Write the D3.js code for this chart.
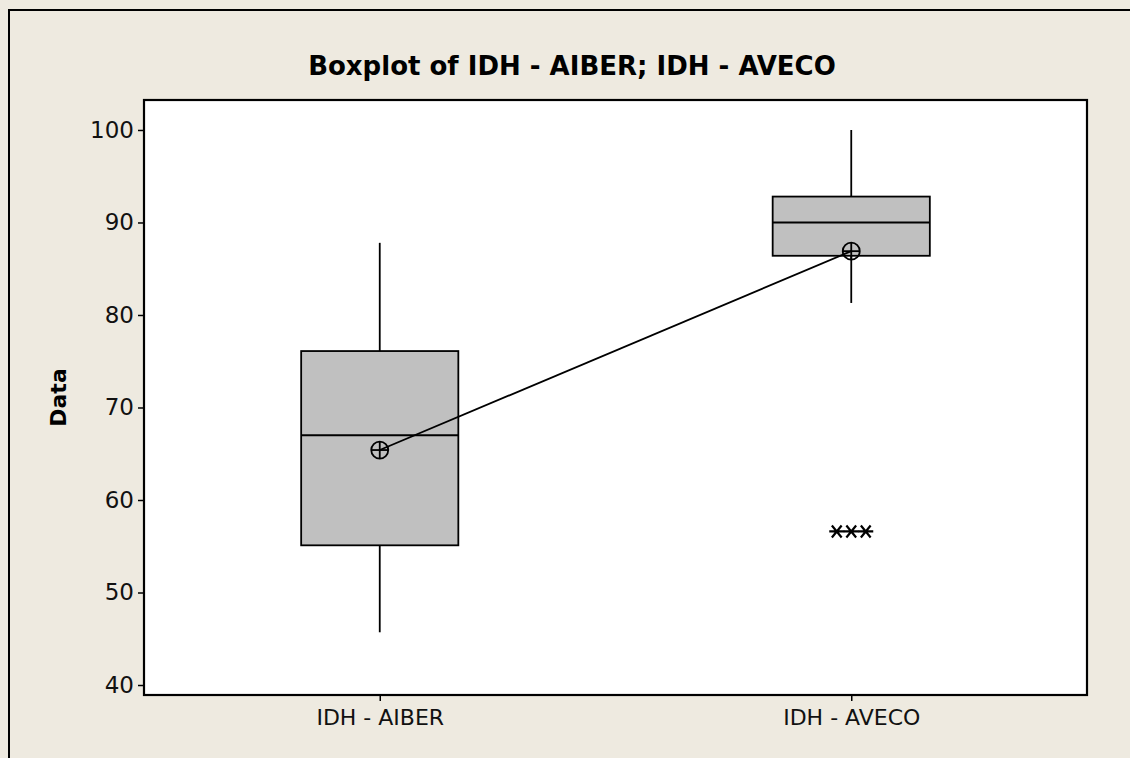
<!DOCTYPE html>
<html><head><meta charset="utf-8">
<script src="https://cdn.jsdelivr.net/npm/d3@7"></script>
<style>body{margin:0;background:#EEEAE0;} svg{display:block;}</style>
</head><body>
<svg id="chart" width="1130" height="758"></svg>
<script>
const categories = ["IDH - AIBER", "IDH - AVECO"];
const whiskerLow  = [45.7, 81.3];
const q1Values    = [55.1, 86.4];
const medians     = [67.0, 90.0];
const q3Values    = [76.1, 92.8];
const whiskerHigh = [87.8, 100.0];
const means       = [65.4, 86.9];
const outliersAVECO = [56.6, 56.6, 56.6];
const yTicks = [40, 50, 60, 70, 80, 90, 100];
const titleText = "Boxplot of IDH - AIBER; IDH - AVECO";
const yLabel = "Data";

const svg = d3.select("#chart");
const W = 1130, H = 758;
const plot = {left:144, top:100, right:1087, bottom:695};

svg.append("rect").attr("width",W).attr("height",H).attr("fill","#EEEAE0");
// outer frame
svg.append("path").attr("d",`M9,${H+5} L9,10 L${W+5},10`).attr("fill","none").attr("stroke","#000").attr("stroke-width",2);

svg.append("rect").attr("x",plot.left).attr("y",plot.top)
  .attr("width",plot.right-plot.left).attr("height",plot.bottom-plot.top).attr("fill","#fff");

const x = d3.scalePoint().domain(categories).range([plot.left, plot.right]).padding(0.5);
const y = d3.scaleLinear().domain([38.92, 103.24]).range([plot.bottom, plot.top]);
const boxW = x.step()/3;

const font = "'DejaVu Sans', Verdana, sans-serif";

// axes
const yAxis = d3.axisLeft(y).tickValues(yTicks).tickSize(6).tickPadding(4).tickFormat(d3.format("d"));
const gy = svg.append("g").attr("transform",`translate(${plot.left},0)`).call(yAxis);
gy.select(".domain").remove();
gy.selectAll("line").attr("stroke","#000").attr("stroke-width",1.5);
gy.selectAll("text").attr("font-family",font).attr("font-size",23).attr("fill","#111");

const xAxis = d3.axisBottom(x).tickSize(6).tickPadding(8);
const gx = svg.append("g").attr("transform",`translate(0,${plot.bottom})`).call(xAxis);
gx.select(".domain").remove();
gx.selectAll("line").attr("stroke","#000").attr("stroke-width",1.5);
gx.selectAll("text").attr("font-family",font).attr("font-size",22).attr("fill","#111");

const data = categories.map((c,i)=>({c, lo:whiskerLow[i], q1:q1Values[i], med:medians[i], q3:q3Values[i], hi:whiskerHigh[i], mean:means[i]}));

const sw = 1.8;
const g = svg.append("g");
data.forEach(d=>{
  const cx = x(d.c);
  g.append("line").attr("x1",cx).attr("x2",cx).attr("y1",y(d.hi)).attr("y2",y(d.q3)).attr("stroke","#000").attr("stroke-width",sw);
  g.append("line").attr("x1",cx).attr("x2",cx).attr("y1",y(d.q1)).attr("y2",y(d.lo)).attr("stroke","#000").attr("stroke-width",sw);
  g.append("rect").attr("x",cx-boxW/2).attr("y",y(d.q3)).attr("width",boxW).attr("height",y(d.q1)-y(d.q3))
    .attr("fill","#C0C0C0").attr("stroke","#000").attr("stroke-width",sw);
  g.append("line").attr("x1",cx-boxW/2).attr("x2",cx+boxW/2).attr("y1",y(d.med)).attr("y2",y(d.med)).attr("stroke","#000").attr("stroke-width",sw);
});

// mean connect line
g.append("path").datum(data).attr("fill","none").attr("stroke","#000").attr("stroke-width",sw)
  .attr("d", d3.line().x(d=>x(d.c)).y(d=>y(d.mean)));

// mean symbols
data.forEach(d=>{
  const cx = x(d.c), cy = y(d.mean), r = 8.5;
  g.append("circle").attr("cx",cx).attr("cy",cy).attr("r",r).attr("fill","none").attr("stroke","#000").attr("stroke-width",sw);
  g.append("line").attr("x1",cx-r).attr("x2",cx+r).attr("y1",cy).attr("y2",cy).attr("stroke","#000").attr("stroke-width",sw);
  g.append("line").attr("x1",cx).attr("x2",cx).attr("y1",cy-r).attr("y2",cy+r).attr("stroke","#000").attr("stroke-width",sw);
});

// outliers (asterisks), offset horizontally for ties
const ox = x(categories[1]);
outliersAVECO.forEach((v,i)=>{
  const cx = ox + (i-1)*14.5, cy = y(v);
  const a = 7.5, b = 6;
  const p = `M${cx-a},${cy}L${cx+a},${cy}M${cx-a*0.65},${cy-b}L${cx+a*0.65},${cy+b}M${cx-a*0.65},${cy+b}L${cx+a*0.65},${cy-b}`;
  g.append("path").attr("d",p).attr("stroke","#000").attr("stroke-width",2.2).attr("fill","none");
});

// plot frame
svg.append("rect").attr("x",plot.left).attr("y",plot.top)
  .attr("width",plot.right-plot.left).attr("height",plot.bottom-plot.top)
  .attr("fill","none").attr("stroke","#000").attr("stroke-width",2.2);

// title
svg.append("text").attr("x",572).attr("y",75).attr("text-anchor","middle")
  .attr("font-family",font).attr("font-weight","bold").attr("font-size",26).attr("fill","#000").text(titleText);

// y label
svg.append("text").attr("transform",`translate(66,${(plot.top+plot.bottom)/2}) rotate(-90)`).attr("text-anchor","middle")
  .attr("font-family",font).attr("font-weight","bold").attr("font-size",22).attr("fill","#000").text(yLabel);
</script>
</body></html>
